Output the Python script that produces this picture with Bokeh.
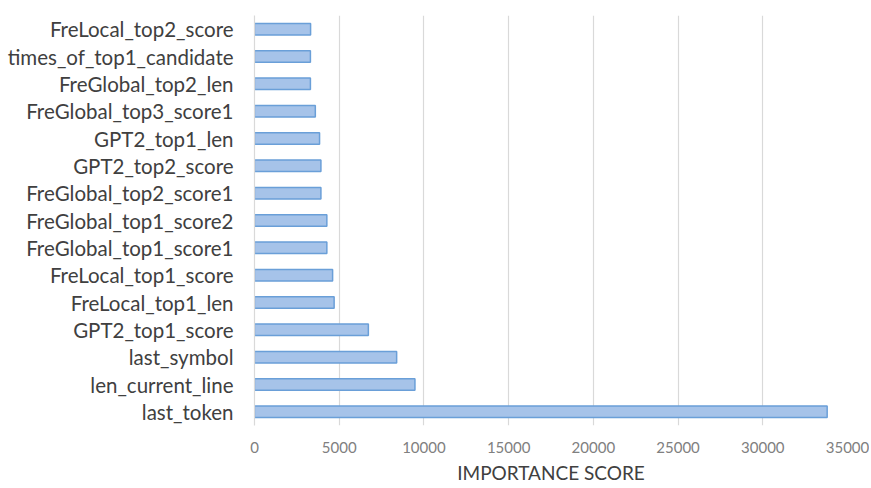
from bokeh.plotting import figure
from bokeh.embed import file_html
from bokeh.resources import INLINE
from bokeh.models import Range1d, FactorRange, FixedTicker

features = ["last_token", "len_current_line", "last_symbol", "GPT2_top1_score",
            "FreLocal_top1_len", "FreLocal_top1_score", "FreGlobal_top1_score1",
            "FreGlobal_top1_score2", "FreGlobal_top2_score1", "GPT2_top2_score",
            "GPT2_top1_len", "FreGlobal_top3_score1", "FreGlobal_top2_len",
            "times_of_top1_candidate", "FreLocal_top2_score"]
scores = [33800, 9470, 8390, 6720, 4700, 4610, 4270, 4270, 3920, 3920,
          3840, 3590, 3300, 3300, 3310]
x_ticks = [0, 5000, 10000, 15000, 20000, 25000, 30000, 35000]

FONT = "Lato"

p = figure(width=869, height=488, output_backend="svg", toolbar_location=None,
           y_range=FactorRange(factors=features, range_padding=0),
           x_range=Range1d(0, 35000),
           min_border_left=254, min_border_right=22, min_border_top=15,
           min_border_bottom=63)
p.outline_line_color = None
p.background_fill_color = "white"

p.hbar(y=features, right=scores, left=0, height=0.42,
       fill_color="#a6c3e9", line_color="#6a9fd8", line_width=1.5)

p.ygrid.grid_line_color = None
p.xgrid.grid_line_color = "#d9d9d9"
p.xgrid.grid_line_width = 1.2

p.xaxis.ticker = FixedTicker(ticks=x_ticks)
p.xaxis.axis_line_color = None
p.xaxis.major_tick_line_color = None
p.xaxis.minor_tick_line_color = None
p.xaxis.major_tick_out = 0
p.xaxis.major_label_standoff = 16
p.xaxis.major_label_text_font = FONT
p.xaxis.major_label_text_font_size = "15px"
p.xaxis.major_label_text_color = "#808080"
p.xaxis.axis_label = "IMPORTANCE SCORE"
p.xaxis.axis_label_text_font = FONT
p.xaxis.axis_label_text_font_style = "normal"
p.xaxis.axis_label_text_font_size = "19px"
p.xaxis.axis_label_text_color = "#404040"
p.xaxis.axis_label_standoff = 5

p.yaxis.axis_line_color = "#d9d9d9"
p.yaxis.axis_line_width = 1.2
p.yaxis.major_tick_line_color = None
p.yaxis.minor_tick_line_color = None
p.yaxis.major_tick_out = 0
p.yaxis.major_label_standoff = 21
p.yaxis.major_label_text_font = FONT
p.yaxis.major_label_text_font_size = "20.5px"
p.yaxis.major_label_text_color = "#404040"

open("out.html", "w").write(file_html(p, INLINE))
